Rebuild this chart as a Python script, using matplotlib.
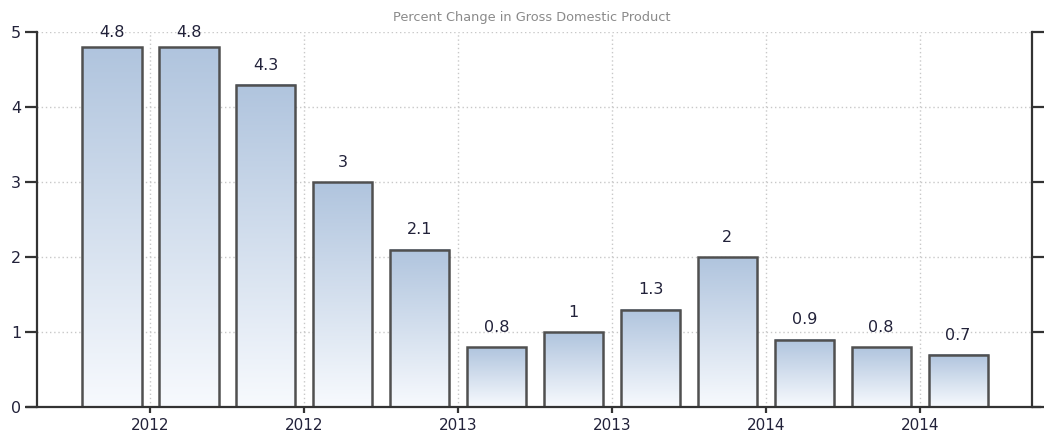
import numpy as np
import matplotlib.pyplot as plt

values = [4.8, 4.8, 4.3, 3, 2.1, 0.8, 1, 1.3, 2, 0.9, 0.8, 0.7]
value_labels = ["4.8", "4.8", "4.3", "3", "2.1", "0.8", "1", "1.3", "2", "0.9", "0.8", "0.7"]
tick_labels = ["2012", "2012", "2013", "2013", "2014", "2014"]

W, H = 1049, 434
fig = plt.figure(figsize=(W / 100, H / 100), dpi=100)
ax = fig.add_axes([37 / W, (H - 407) / H, (1032 - 37) / W, (407 - 32) / H])

x = np.arange(len(values))
width = 0.77
txt_col = '#22223a'

# gradient for the bars (top blue -> bottom almost white)
grad = np.linspace(0, 1, 256).reshape(256, 1, 1)
top = np.array([0.69, 0.77, 0.87])
bot = np.array([0.97, 0.98, 0.995])
img = bot + (top - bot) * grad

for xi, v in zip(x, values):
    ax.imshow(img, extent=[xi - width / 2, xi + width / 2, 0, v], origin='lower',
              aspect='auto', zorder=2, interpolation='bilinear')
ax.bar(x, values, width=width, facecolor='none', edgecolor='#505050', linewidth=1.8, zorder=3)

for xi, v, lab in zip(x, values, value_labels):
    ax.text(xi, min(v + 0.26, 4.99), lab, ha='center', va='center', fontsize=11.5,
            color=txt_col)

ax.set_xlim(-0.975, 11.96)
ax.set_ylim(0, 5)

tick_pos = np.arange(0.5, 11, 2)
ax.set_xticks(tick_pos)
ax.set_xticklabels(tick_labels)
ax.set_yticks(np.arange(0, 6))

ax.grid(True, color='#c8c8c8', linestyle=(0, (1, 2)), linewidth=1, zorder=0)
ax.set_axisbelow(True)

ax.spines['top'].set_visible(False)
ax.spines['bottom'].set_visible(False)
for s in ['left', 'right']:
    ax.spines[s].set_color('#333333')
    ax.spines[s].set_linewidth(1.6)

# baseline sticks out a bit on both sides
ax.plot([-1.1, 12.07], [0, 0], color='#333333', linewidth=1.6, clip_on=False, zorder=4)

ax.tick_params(axis='y', left=True, right=True, labelright=False,
               direction='out', length=8.5, width=1.6, color='#333333',
               labelsize=11.5, labelcolor=txt_col, pad=3)
ax.tick_params(axis='x', direction='out', length=4, width=1.6, color='#333333',
               labelsize=11, labelcolor=txt_col, pad=4)

fig.text(532 / W, 1 - 18 / H, "Percent Change in Gross Domestic Product", ha='center',
         va='center', fontsize=9.3, color='#8a8a8a')

fig.savefig('out.png', dpi=100)
